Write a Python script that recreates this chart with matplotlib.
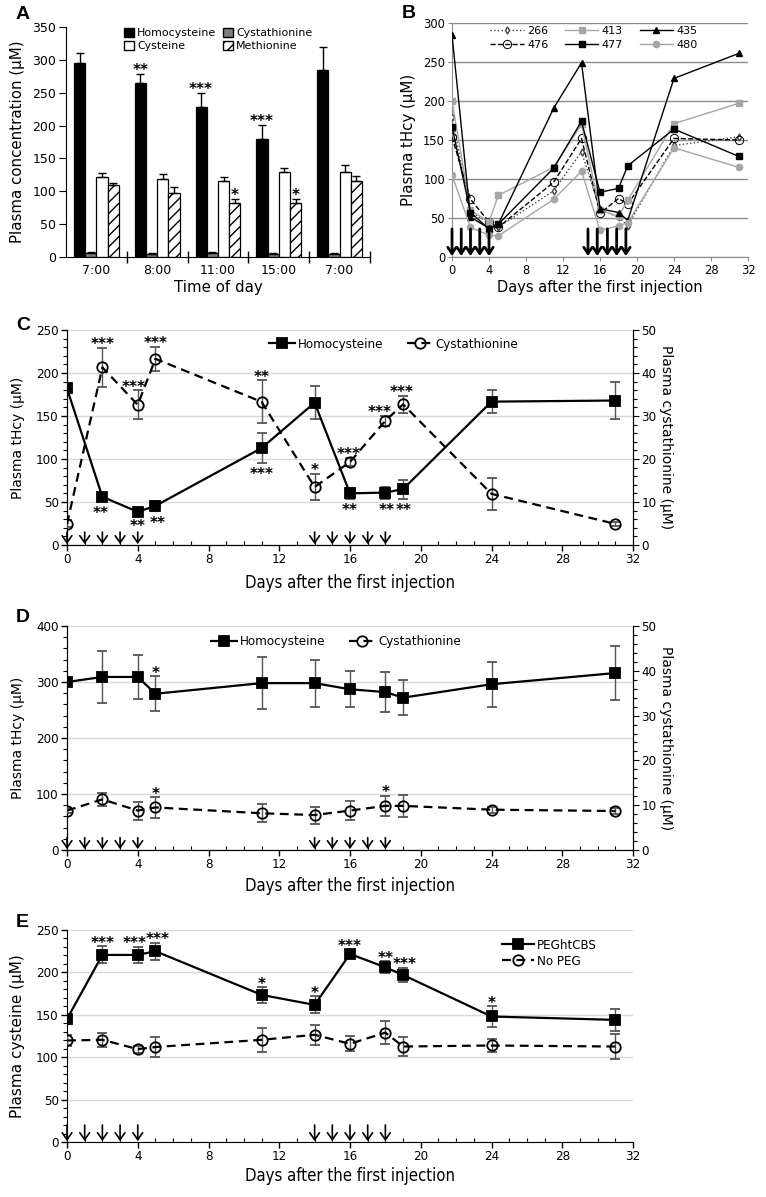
import matplotlib
matplotlib.use("Agg")
import matplotlib.pyplot as plt
from matplotlib.ticker import MultipleLocator, FixedLocator
from matplotlib.patches import Patch

W, H = 766, 1197
NARROW = dict(family="DejaVu Sans", stretch="condensed")
WIDE = ["DejaVu Sans"]

# ---------------- panel A: time of day ----------------
times = ["7:00", "8:00", "11:00", "15:00", "7:00"]
a_hcy = [295, 265, 229, 180, 285]
a_hcy_err = [15, 14, 21, 21, 34]
a_cysta = [6, 5, 6, 5, 5]
a_cysta_err = [1, 1, 1, 1, 1]
a_cys = [121, 119, 116, 129, 130]
a_cys_err = [7, 7, 5, 7, 10]
a_met = [110, 97, 82, 82, 115]
a_met_err = [3, 10, 7, 7, 8]
a_hcy_sig = ["", "**", "***", "***", ""]
a_met_sig = ["", "", "*", "*", ""]

# ---------------- panel B: individual mice ----------------
b_days = [0, 2, 4, 5, 11, 14, 16, 18, 19, 24, 31]
b_266 = [180, 58, 44, 38, 85, 135, 61, 51, 40, 143, 154]
b_413 = [200, 60, 45, 79, 115, 170, 60, 52, 73, 171, 197]
b_435 = [285, 51, 37, 42, 191, 249, 62, 57, 47, 229, 261]
b_476 = [154, 74, 45, 38, 96, 152, 56, 75, 68, 152, 150]
b_477 = [167, 57, 36, 42, 114, 174, 83, 88, 117, 164, 129]
b_480 = [105, 38, 28, 27, 74, 110, 34, 40, 44, 140, 115]
b_inj = [0, 1, 2, 3, 4, 14.7, 15.7, 16.8, 17.8, 18.8]

# ---------------- panels C-E: group means ----------------
days = [0, 2, 4, 5, 11, 14, 16, 18, 19, 24, 31]
inj_days = [0, 1, 2, 3, 4, 14, 15, 16, 17, 18]

c_hcy = [182, 56, 38.6, 45.5, 112.7, 165.5, 60, 61, 65, 166.7, 168]
c_hcy_err = [3, 5, 3, 6, 17, 19, 6, 7, 11, 13, 21]
c_cysta = [4.9, 41.3, 32.6, 43.3, 33.3, 13.5, 19.3, 28.9, 32.7, 11.9, 4.9]
c_cysta_err = [0.8, 4.5, 3.4, 2.8, 5, 3, 1, 1.2, 2, 3.7, 0.5]
c_hcy_sig = ["", "**", "**", "**", "***", "", "**", "**", "**", "", ""]
c_cysta_sig = ["", "***", "***", "***", "**", "*", "***", "***", "***", "", ""]

d_hcy = [300, 309, 309, 279, 298, 298, 287, 282, 272, 296, 316]
d_hcy_err = [4, 46, 39, 31, 46, 42, 32, 35, 31, 40, 48]
d_cysta = [8.8, 11.3, 8.8, 9.5, 8.2, 7.8, 8.8, 9.85, 9.85, 9.0, 8.7]
d_cysta_err = [0.5, 1.4, 2, 2.3, 2, 1.9, 2.2, 2.3, 2.5, 0.7, 0.6]
d_hcy_sig = ["", "", "", "*", "", "", "", "", "", "", ""]
d_cysta_sig = ["", "", "", "*", "", "", "", "*", "", "", ""]

e_peg = [145, 220.6, 220.6, 225, 173.5, 161.7, 221.7, 206, 197, 148, 144]
e_peg_err = [5, 10, 9.5, 10, 9, 10, 5, 7, 8.5, 12, 13]
e_nopeg = [119.7, 120.5, 109.5, 112, 120.5, 126.4, 115.8, 129, 112.6, 113.8, 112.6]
e_nopeg_err = [7, 8.6, 4, 12, 14, 12, 8.8, 14, 10.8, 8, 14.5]
e_peg_sig = ["", "***", "***", "***", "*", "*", "***", "**", "***", "*", ""]


def box(l, t, r, b):
    return [l / W, 1 - b / H, (r - l) / W, (b - t) / H]


def stars(ax, x, y, err, sig, side, dx=None, size=11):
    for i, s in enumerate(sig):
        if not s:
            continue
        xs = x[i] + (dx[i] if dx else 0)
        if side == "above":
            ax.annotate(s, (xs, y[i] + err[i]), xytext=(0, -1), textcoords="offset points",
                        ha="center", va="baseline", fontsize=size, fontweight="bold",
                        family=WIDE, annotation_clip=False)
        else:
            ax.annotate(s, (xs, y[i] - err[i]), xytext=(0, -12), textcoords="offset points",
                        ha="center", va="baseline", fontsize=size, fontweight="bold",
                        family=WIDE, annotation_clip=False)


def injections(ax, inj, frac, lw=1.2, hw=0.35, hl=0.5, ms=10):
    for d in inj:
        ax.annotate("", xy=(d, 0.004), xytext=(d, frac),
                    xycoords=("data", "axes fraction"), textcoords=("data", "axes fraction"),
                    arrowprops=dict(arrowstyle=f"->,head_width={hw},head_length={hl}",
                                    lw=lw, color="black", shrinkA=0, shrinkB=0,
                                    mutation_scale=ms))


def timecourse(ax, y, err, marker, dashed):
    kw = dict(color="black", ecolor="#555555", elinewidth=1, capsize=3.5, capthick=1,
              marker=marker, ms=7.5, mec="black", mew=1.3, lw=1.6, zorder=3)
    kw["mfc"] = "black" if marker == "s" else "none"
    if dashed:
        kw["dashes"] = (4, 2.5)
    return ax.errorbar(days, y, yerr=err, **kw)[0]


def narrow_ticks(ax):
    for lab in ax.get_xticklabels() + ax.get_yticklabels():
        lab.set_family(NARROW["family"])
        lab.set_stretch(NARROW["stretch"])


def style_time_axis(ax, ymax, ymaj, ymin, label_y):
    ax.set_xlim(0, 32)
    ax.set_ylim(0, ymax)
    ax.xaxis.set_major_locator(MultipleLocator(4))
    ax.xaxis.set_minor_locator(MultipleLocator(1))
    ax.yaxis.set_major_locator(MultipleLocator(ymaj))
    ax.yaxis.set_minor_locator(MultipleLocator(ymin))
    ax.tick_params(axis="both", which="major", length=4, width=1, labelsize=9.5, pad=2)
    ax.tick_params(axis="both", which="minor", length=3, width=0.8)
    ax.tick_params(axis="x", which="minor", direction="in")
    narrow_ticks(ax)
    ax.yaxis.grid(True, which="major", color="#d9d9d9", lw=1)
    ax.set_axisbelow(True)
    ax.spines["top"].set_visible(False)
    ax.set_xlabel("Days after the first injection", fontsize=12, **NARROW)
    ax.xaxis.set_label_coords(0.5, label_y)


def right_axis(ax, ymax):
    ax2 = ax.twinx()
    ax2.set_ylim(0, ymax)
    ax2.yaxis.set_major_locator(MultipleLocator(10))
    ax2.yaxis.set_minor_locator(MultipleLocator(2))
    ax2.tick_params(which="major", length=4, labelsize=9.5, pad=2)
    ax2.tick_params(which="minor", length=3, width=0.8)
    narrow_ticks(ax2)
    ax2.spines["top"].set_visible(False)
    ax2.set_ylabel("Plasma cystathionine (\u03bcM)", family=WIDE, fontsize=10, rotation=270)
    ax2.yaxis.set_label_coords(1.071, 0.5)
    return ax2


def legend_prop(size):
    return dict(family=NARROW["family"], stretch=NARROW["stretch"], size=size)


fig = plt.figure(figsize=(W / 100, H / 100), dpi=100)

# ---------------- A ----------------
axA = fig.add_axes(box(66, 27, 370, 257))
bw = 0.185
series_a = [
    (a_hcy, a_hcy_err, dict(color="black", edgecolor="black"), "Homocysteine"),
    (a_cysta, a_cysta_err, dict(color="#7f7f7f", edgecolor="black"), "Cystathionine"),
    (a_cys, a_cys_err, dict(color="white", edgecolor="black"), "Cysteine"),
    (a_met, a_met_err, dict(color="white", edgecolor="black", hatch="///"), "Methionine"),
]
xs = list(range(len(times)))
handles_a = {}
for k, (vals, err, st, lab) in enumerate(series_a):
    pos = [x + (k - 1.5) * bw for x in xs]
    axA.bar(pos, vals, bw, yerr=[[0] * len(vals), err], linewidth=0.9,
            error_kw=dict(ecolor="black", elinewidth=1, capsize=3, capthick=1), **st)
    handles_a[lab] = Patch(facecolor=st["color"], edgecolor="black", hatch=st.get("hatch"), label=lab)
    if lab == "Homocysteine":
        stars(axA, pos, vals, err, a_hcy_sig, "above", size=11)
    if lab == "Methionine":
        stars(axA, pos, vals, err, a_met_sig, "above", size=11)
axA.set_xlim(-0.5, len(times) - 0.5)
axA.set_ylim(0, 350)
axA.yaxis.set_major_locator(MultipleLocator(50))
axA.set_xticks(xs)
axA.set_xticklabels(times)
axA.xaxis.set_minor_locator(FixedLocator([x + 0.5 for x in xs]))
axA.tick_params(axis="x", which="major", length=0, labelsize=9, pad=5)
axA.tick_params(axis="x", which="minor", direction="inout", length=8, width=1)
axA.tick_params(axis="y", length=5, labelsize=9, pad=2)
for s in ("top", "right"):
    axA.spines[s].set_visible(False)
axA.set_ylabel("Plasma concentration (\u03bcM)", fontsize=10.8)
axA.yaxis.set_label_coords(-0.135, 0.5)
axA.set_xlabel("Time of day", fontsize=10.8)
axA.xaxis.set_label_coords(0.5, -0.1)
axA.legend(handles=[handles_a["Homocysteine"], handles_a["Cysteine"],
                    handles_a["Cystathionine"], handles_a["Methionine"]],
           ncol=2, loc="upper center", bbox_to_anchor=(0.5, 1.02), frameon=False,
           fontsize=7.9, handlelength=0.9, handleheight=0.9, handletextpad=0.3,
           columnspacing=0.6, labelspacing=0.25, borderaxespad=0.1)

# ---------------- B ----------------
axB = fig.add_axes(box(452, 23, 748, 257))
gray = "#a6a6a6"
b_styles = [
    (b_266, "266", dict(color="#404040", ls=":", lw=1, marker="d", ms=3.5, mfc="white")),
    (b_476, "476", dict(color="black", ls="--", lw=1, marker="o", ms=6, mfc="none", mew=0.7)),
    (b_413, "413", dict(color=gray, ls="-", lw=1, marker="s", ms=4.5)),
    (b_477, "477", dict(color="black", ls="-", lw=1, marker="s", ms=5)),
    (b_435, "435", dict(color="black", ls="-", lw=1, marker="^", ms=4.5)),
    (b_480, "480", dict(color=gray, ls="-", lw=1, marker="o", ms=4.5)),
]
for vals, lab, st in b_styles:
    axB.plot(b_days, vals, label=lab, zorder=3, **st)
axB.set_xlim(0, 32)
axB.set_ylim(0, 300)
axB.xaxis.set_major_locator(MultipleLocator(4))
axB.yaxis.set_major_locator(MultipleLocator(50))
axB.yaxis.grid(True, color="#8c8c8c", lw=1)
axB.set_axisbelow(True)
for s in ("top", "right"):
    axB.spines[s].set_visible(False)
for s in ("left", "bottom"):
    axB.spines[s].set_color("#8c8c8c")
axB.tick_params(axis="both", colors="#8c8c8c", labelcolor="black", labelsize=8.3, length=3, pad=2)
axB.set_ylabel("Plasma tHcy (\u03bcM)", fontsize=10.8)
axB.yaxis.set_label_coords(-0.12, 0.5)
axB.set_xlabel("Days after the first injection", fontsize=10.5)
axB.xaxis.set_label_coords(0.5, -0.1)
injections(axB, b_inj, 0.12, lw=2.0, hw=0.3, hl=0.45, ms=10)
axB.legend(ncol=3, loc="upper center", bbox_to_anchor=(0.48, 1.01), frameon=False,
           fontsize=8, handlelength=3.0, handletextpad=0.3, columnspacing=1.5,
           labelspacing=0.3, borderaxespad=0.1)

# ---------------- C ----------------
axC = fig.add_axes(box(67, 330, 633, 545))
style_time_axis(axC, 250, 50, 10, -0.135)
axC2 = right_axis(axC, 50)
hC1 = timecourse(axC, c_hcy, c_hcy_err, "s", False)
hC2 = timecourse(axC2, c_cysta, c_cysta_err, "o", True)
stars(axC, days, c_hcy, c_hcy_err, c_hcy_sig, "below",
      dx=[0, -0.1, 0, 0.1, 0, 0, 0, 0.05, 0.05, 0, 0])
stars(axC2, days, c_cysta, c_cysta_err, c_cysta_sig, "above",
      dx=[0, 0, -0.25, 0, 0, 0, -0.1, -0.35, -0.1, 0, 0])
injections(axC, inj_days, 0.06)
axC.set_ylabel("Plasma tHcy (\u03bcM)", family=WIDE, fontsize=10)
axC.yaxis.set_label_coords(-0.074, 0.5)
axC.legend([hC1, hC2], ["Homocysteine", "Cystathionine"], ncol=2, loc="upper center",
           bbox_to_anchor=(0.577, 1.0), frameon=False, prop=legend_prop(9.5),
           handlelength=2.0, handletextpad=0.2, columnspacing=1.8, borderaxespad=0.2)

# ---------------- D ----------------
axD = fig.add_axes(box(67, 626, 633, 850))
style_time_axis(axD, 400, 100, 20, -0.12)
axD2 = right_axis(axD, 50)
hD1 = timecourse(axD, d_hcy, d_hcy_err, "s", False)
hD2 = timecourse(axD2, d_cysta, d_cysta_err, "o", True)
stars(axD, days, d_hcy, d_hcy_err, d_hcy_sig, "above")
stars(axD2, days, d_cysta, d_cysta_err, d_cysta_sig, "above")
injections(axD, inj_days, 0.055)
axD.set_ylabel("Plasma tHcy (\u03bcM)", family=WIDE, fontsize=10)
axD.yaxis.set_label_coords(-0.074, 0.5)
axD.legend([hD1, hD2], ["Homocysteine", "Cystathionine"], ncol=2, loc="upper center",
           bbox_to_anchor=(0.475, 1.0), frameon=False, prop=legend_prop(9.5),
           handlelength=2.0, handletextpad=0.2, columnspacing=1.8, borderaxespad=0.3)

# ---------------- E ----------------
axE = fig.add_axes(box(67, 930, 633, 1142))
style_time_axis(axE, 250, 50, 10, -0.118)
axE.spines["right"].set_visible(False)
hE1 = timecourse(axE, e_peg, e_peg_err, "s", False)
hE2 = timecourse(axE, e_nopeg, e_nopeg_err, "o", True)
stars(axE, days, e_peg, e_peg_err, e_peg_sig, "above",
      dx=[0, 0, -0.2, 0.15, 0, 0, 0, 0, 0.1, 0, 0])
injections(axE, inj_days, 0.08)
axE.set_ylabel("Plasma cysteine (\u03bcM)", family=WIDE, fontsize=11)
axE.yaxis.set_label_coords(-0.074, 0.5)
axE.legend([hE1, hE2], ["PEGhtCBS", "No PEG"], loc="upper left", bbox_to_anchor=(0.755, 0.995),
           frameon=False, prop=legend_prop(9.5), handlelength=2.4,
           handletextpad=0.2, labelspacing=0.2, borderaxespad=0.2)

# panel letters
for lab, (px, py) in zip("ABCDE", [(16, 6), (402, 5), (16, 317), (16, 609), (16, 914)]):
    fig.text(px / W, 1 - py / H, lab, fontsize=14, fontweight="bold",
             family=["Liberation Sans", "DejaVu Sans"], va="top", ha="left")

fig.savefig("out.png", dpi=100)
